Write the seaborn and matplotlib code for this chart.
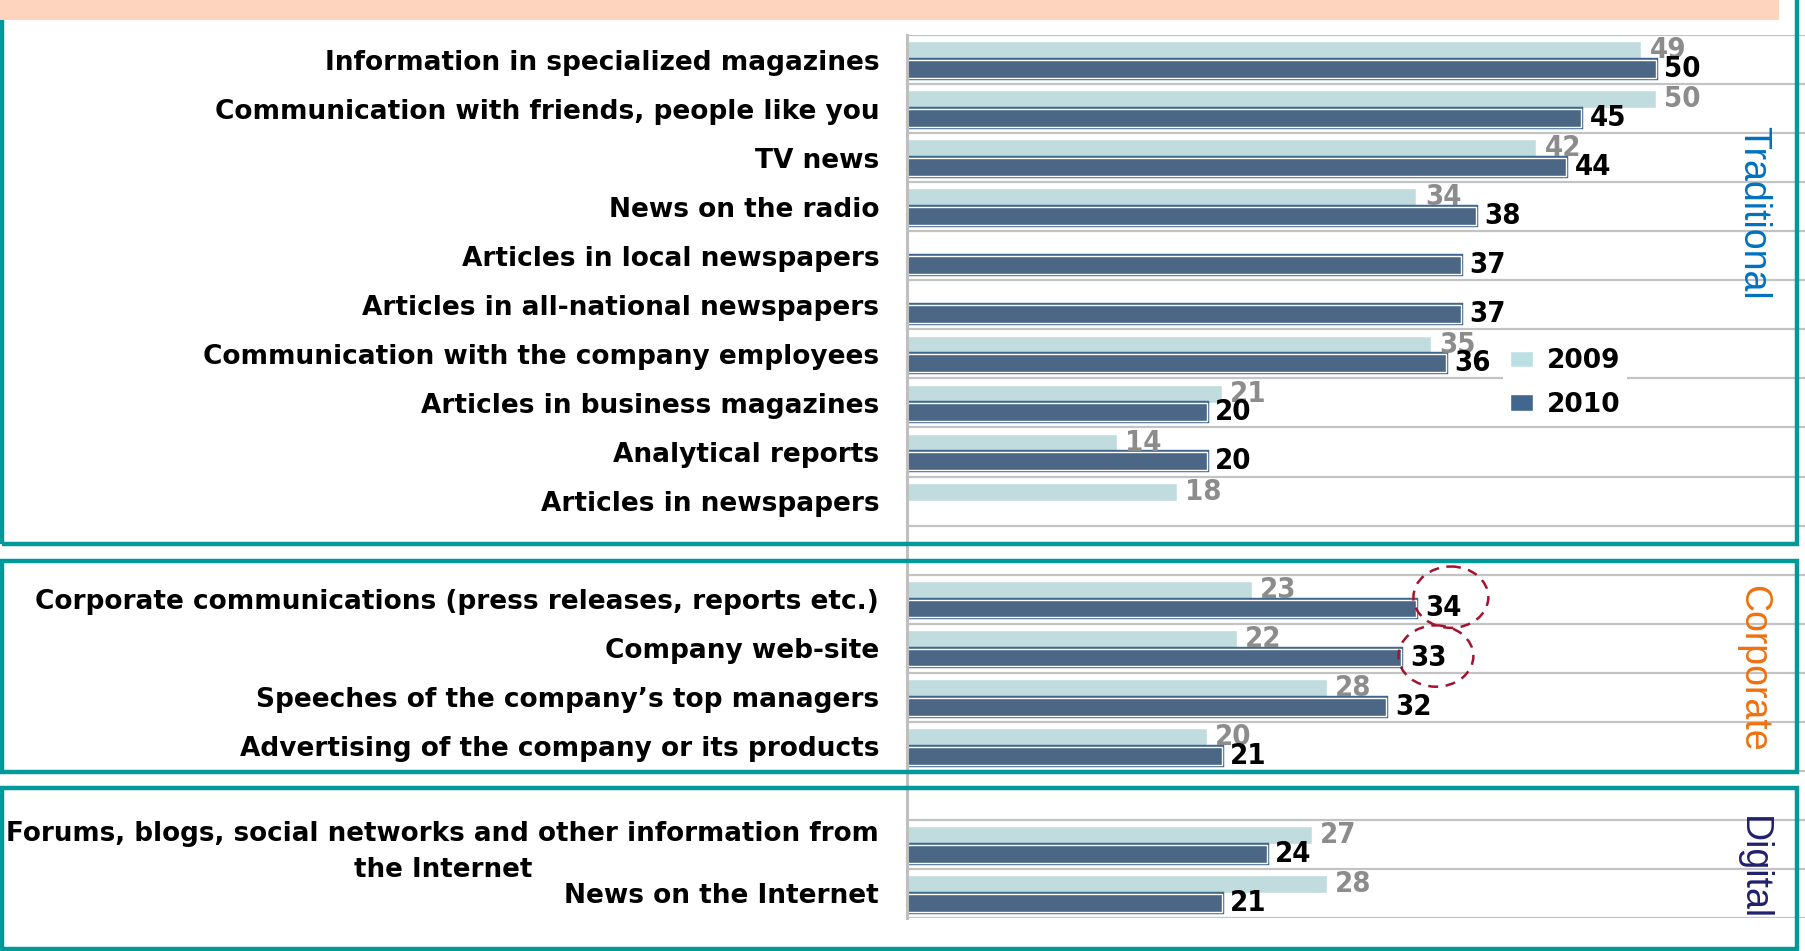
import numpy as np
import pandas as pd
import matplotlib
matplotlib.use("Agg")
import matplotlib.pyplot as plt
import matplotlib.patheffects as pe
from matplotlib import font_manager as fm
from matplotlib.patches import Rectangle, Ellipse, Patch
import seaborn as sns

# ---- data -------------------------------------------------------------
traditional = [
    "Information in specialized magazines",
    "Communication with friends, people like you",
    "TV news",
    "News on the radio",
    "Articles in local newspapers",
    "Articles in all-national newspapers",
    "Communication with the company employees",
    "Articles in business magazines",
    "Analytical reports",
    "Articles in newspapers",
]
trad_2009 = [49, 50, 42, 34, np.nan, np.nan, 35, 21, 14, 18]
trad_2010 = [50, 45, 44, 38, 37, 37, 36, 20, 20, np.nan]

corporate = [
    "Corporate communications (press releases, reports etc.)",
    "Company web-site",
    "Speeches of the company\u2019s top managers",
    "Advertising of the company or its products",
]
corp_2009 = [23, 22, 28, 20]
corp_2010 = [34, 33, 32, 21]

digital = [
    "Forums, blogs, social networks and other information from\nthe Internet",
    "News on the Internet",
]
dig_2009 = [27, 28]
dig_2010 = [24, 21]

years = ["2009", "2010"]
group_names = ["Traditional", "Corporate", "Digital"]
highlighted = ["Corporate communications (press releases, reports etc.)", "Company web-site"]

# ---- layout / style ---------------------------------------------------
W, H = 1806, 951
LIGHT, DARK = "#BBE0E3", "#41678F"
TEAL = "#00999A"
GRID = "#C3C3C3"

sns.set_theme(style="white")

cond = [f for f in fm.fontManager.ttflist
        if "DejaVu" in f.name and "Mono" not in f.name and "Serif" not in f.name
        and ("Condensed" in f.name or f.stretch == "condensed")]
if cond:
    NUM_FAMILY, NUM_STRETCH, NUM_SCALE = cond[0].name, "condensed", 1.0
else:
    NUM_FAMILY, NUM_STRETCH, NUM_SCALE = "DejaVu Sans", "normal", 0.9
plt.rcParams["font.family"] = ["DejaVu Sans"]


def label_font(size):
    return fm.FontProperties(family=["DejaVu Sans"], weight="bold", size=size)


def number_font(size):
    return fm.FontProperties(family=[NUM_FAMILY, "DejaVu Sans"], weight="bold",
                             stretch=NUM_STRETCH, size=size * NUM_SCALE)


# rows, with an empty row separating the groups
order = traditional + [" "] + corporate + ["  "] + digital
records = []
for cats, v09, v10 in [(traditional, trad_2009, trad_2010),
                       (corporate, corp_2009, corp_2010),
                       (digital, dig_2009, dig_2010)]:
    for c, a, b in zip(cats, v09, v10):
        records.append({"source": c, "year": years[0], "share": a})
        records.append({"source": c, "year": years[1], "share": b})
df = pd.DataFrame(records).dropna()

fig = plt.figure(figsize=(W / 100, H / 100), dpi=100)
ax = fig.add_axes([907 / W, 1 - 918 / H, (W - 907) / W, (918 - 35) / H])

sns.barplot(data=df, y="source", x="share", hue="year", order=order,
            hue_order=years, palette={years[0]: LIGHT, years[1]: DARK},
            orient="h", width=0.76, gap=0.04, edgecolor="white", linewidth=1.0,
            legend=False, ax=ax)

# double border on the darker bars
for bar in ax.containers[1]:
    bar.set_path_effects([pe.Stroke(linewidth=3.2, foreground=DARK), pe.Normal()])

ax.set_xlim(0, 60)
ax.set_ylim(len(order) - 0.5, -0.5)
ax.set_xlabel("")
ax.set_ylabel("")
ax.set_xticks([])

# labels at row centres, ticks and gridlines at row boundaries
ax.set_yticks(range(len(order)))
ax.set_yticklabels([o.strip() for o in order])
for t in ax.get_yticklabels():
    multi = "\n" in t.get_text()
    t.set_fontproperties(label_font(18.8 if multi else 19))
    t.set_color("black")
    t.set_multialignment("center")
    t.set_linespacing(1.5)
ax.tick_params(axis="y", which="major", length=0, pad=20)
ax.set_yticks(np.arange(-0.5, len(order), 1), minor=True)
ax.tick_params(axis="y", which="minor", length=8, width=1.6, color="#BFBFBF", direction="out")
ax.grid(which="minor", axis="y", color=GRID, linewidth=1.6)
ax.grid(which="major", visible=False)
ax.set_axisbelow(True)

for side in ["top", "right", "bottom"]:
    ax.spines[side].set_visible(False)
ax.spines["left"].set_color("#BFBFBF")
ax.spines["left"].set_linewidth(2.2)

# value labels
ax.bar_label(ax.containers[0], fmt="%g", padding=6, color="#8C8C8C",
             fontproperties=number_font(21))
ax.bar_label(ax.containers[1], fmt="%g", padding=6, color="black",
             fontproperties=number_font(21))

# dashed rings around the highlighted 2010 values
ring_dy = [-0.04, 0.16]
for name, dy in zip(highlighted, ring_dy):
    pos = order.index(name)
    val = corp_2010[corporate.index(name)]
    ax.add_patch(Ellipse((val + 2.3, pos + dy), 5.0, 1.25, fill=False,
                         edgecolor="#A5122F", linewidth=1.8, linestyle=(0, (4, 3)),
                         clip_on=False, zorder=6))

# legend
handles = [Patch(facecolor=LIGHT, edgecolor="white"),
           Patch(facecolor=DARK, edgecolor="white")]
leg = ax.legend(handles, years, loc="center left",
                bbox_to_anchor=(1503 / W, 1 - 383 / H), bbox_transform=fig.transFigure,
                borderaxespad=0, frameon=True, facecolor="white", edgecolor="none",
                framealpha=1, prop=label_font(19), handlelength=0.9, handleheight=0.6,
                handletextpad=0.5, labelspacing=0.65, borderpad=0.25)
for txt in leg.get_texts():
    txt.set_color("black")
leg.set_zorder(4)


def px_rect(x0, y0, x1, y1, **kw):
    return Rectangle((x0 / W, 1 - y1 / H), (x1 - x0) / W, (y1 - y0) / H,
                     transform=fig.transFigure, **kw)


# group frames
for y0, y1 in [(-10, 544), (561, 772), (788, 949)]:
    fig.add_artist(px_rect(2, y0, 1797, y1, fill=False, edgecolor=TEAL,
                           linewidth=3.2, zorder=7))

# header band
fig.add_artist(px_rect(0, -2, 1779, 20, facecolor="#FFD4BF", edgecolor="none", zorder=8))

# group titles on the right
for name, yc, col in zip(group_names, [213, 668, 868], ["#0070C0", "#F0700F", "#20206E"]):
    fig.text(1753 / W, 1 - yc / H, name, rotation=-90, ha="center", va="center",
             color=col, fontsize=27, family=["Liberation Sans", "DejaVu Sans"], zorder=9)

fig.savefig("out.png", dpi=100)
